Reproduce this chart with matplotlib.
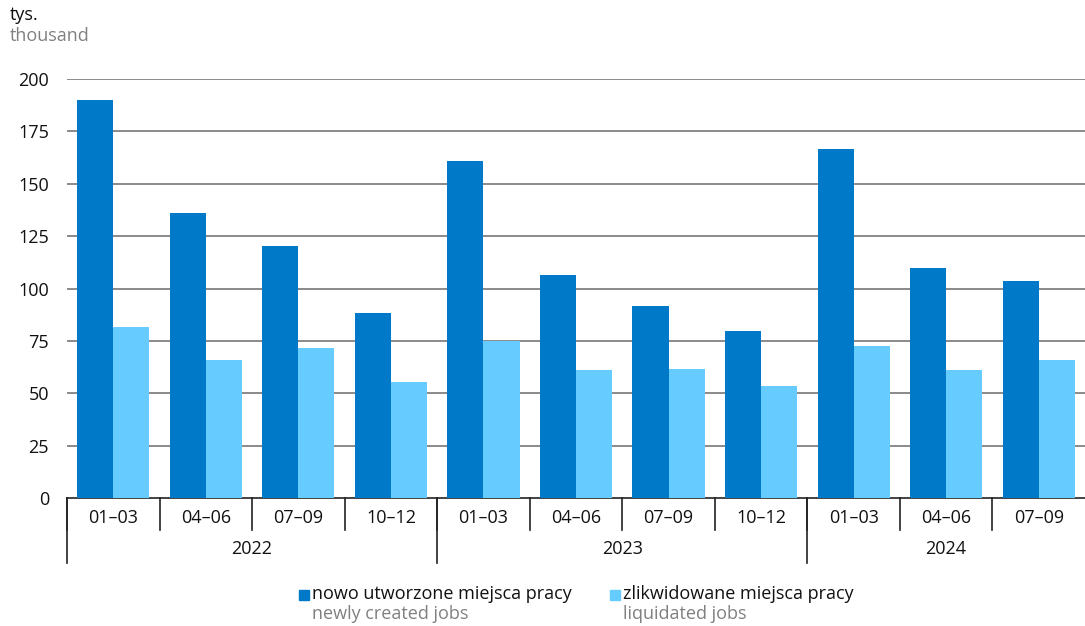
import matplotlib
matplotlib.use("Agg")
import matplotlib.pyplot as plt
import numpy as np
from matplotlib.patches import Rectangle
from matplotlib.transforms import blended_transform_factory

plt.rcParams['font.family'] = ['Open Sans', 'DejaVu Sans']

quarters = ["01–03", "04–06", "07–09", "10–12",
            "01–03", "04–06", "07–09", "10–12",
            "01–03", "04–06", "07–09"]
years = ["2022", "2023", "2024"]
year_counts = [4, 4, 3]
created = [190, 136, 120.3, 88.3, 160.9, 106.4, 91.6, 79.7, 166.6, 109.8, 103.6]
liquidated = [81.6, 65.9, 71.6, 55.4, 74.9, 61.1, 61.6, 53.5, 72.6, 61.1, 65.9]
yticks = [0, 25, 50, 75, 100, 125, 150, 175, 200]

dark = "#0079C8"
light = "#66CCFF"
W, H = 1085, 626
fs = 13
fig = plt.figure(figsize=(W / 100, H / 100), dpi=100)
ax = fig.add_axes([67 / W, 1 - 498 / H, (1085 - 67) / W, (498 - 79) / H])

x = np.arange(len(quarters))
bw = 0.39
ax.bar(x - bw / 2, created, bw, color=dark, zorder=3, linewidth=0)
ax.bar(x + bw / 2, liquidated, bw, color=light, zorder=3, linewidth=0)

ax.set_xlim(-0.5, len(quarters) - 0.5)
ax.set_ylim(0, 200)
ax.set_yticks(yticks)
ax.set_yticklabels([str(v) for v in yticks], fontsize=fs, color="#111111")
ax.tick_params(axis='y', length=0, pad=13)
for v in yticks[1:]:
    ax.axhline(v, color="#8a8a8a", lw=1.4, zorder=1)
for s in ["left", "right", "top"]:
    ax.spines[s].set_visible(False)
ax.spines["bottom"].set_color("#222222")
ax.spines["bottom"].set_linewidth(1.2)
ax.set_xticks([])

trans = blended_transform_factory(ax.transData, ax.transAxes)
px = 1 / (498 - 79)
# quarter boundaries
for b in np.arange(-0.5, len(quarters) - 0.5, 1.0):
    ax.plot([b, b], [0, -32 * px], transform=trans, color="#222222", lw=1.2, clip_on=False)
for i, q in enumerate(quarters):
    ax.text(i, -20 * px, q, transform=trans, ha="center", va="center", fontsize=fs, color="#111111")
# year boundaries
start = 0
for yr, c in zip(years, year_counts):
    ax.plot([start - 0.5, start - 0.5], [0, -65 * px], transform=trans, color="#222222", lw=1.2, clip_on=False)
    ax.text(start + (c - 1) / 2, -51 * px, yr, transform=trans, ha="center", va="center", fontsize=fs, color="#111111")
    start += c

fig.text(10 / W, 1 - 15 / H, "tys.", fontsize=fs, color="#111111", va="center", ha="left")
fig.text(10 / W, 1 - 36 / H, "thousand", fontsize=fs, color="#808080", va="center", ha="left")

# legend
for sx, col, t1, t2 in [(299, dark, "nowo utworzone miejsca pracy", "newly created jobs"),
                        (610, light, "zlikwidowane miejsca pracy", "liquidated jobs")]:
    fig.patches.append(Rectangle((sx / W, 1 - 600 / H), 10 / W, 10 / H, transform=fig.transFigure,
                                 color=col, figure=fig))
    fig.text((sx + 13) / W, 1 - 594 / H, t1, fontsize=fs, color="#111111", va="center", ha="left")
    fig.text((sx + 13) / W, 1 - 614 / H, t2, fontsize=fs, color="#808080", va="center", ha="left")

fig.savefig("out.png", dpi=100)
